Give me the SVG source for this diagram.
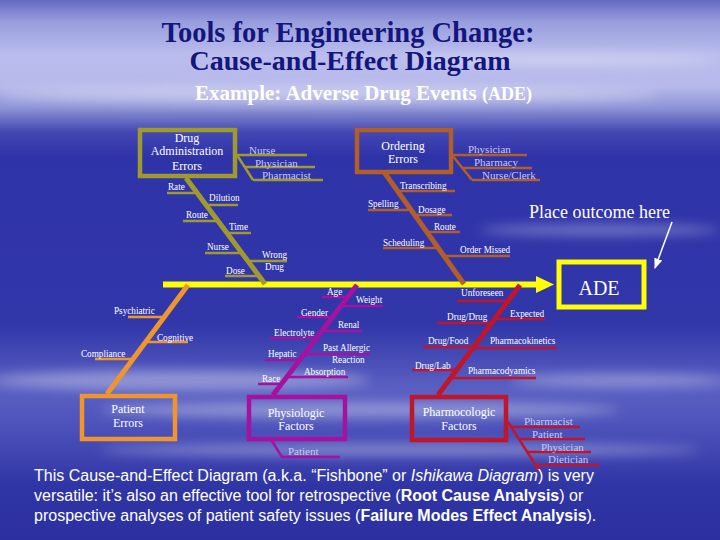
<svg xmlns="http://www.w3.org/2000/svg" width="720" height="540" viewBox="0 0 720 540">
<defs>
<linearGradient id="bg" x1="0" y1="0" x2="0" y2="1">
<stop offset="0" stop-color="#6469c4"/>
<stop offset="0.04" stop-color="#989ddd"/>
<stop offset="0.1" stop-color="#b9bcec"/>
<stop offset="0.16" stop-color="#b6b9ea"/>
<stop offset="0.2" stop-color="#8e93d6"/>
<stop offset="0.245" stop-color="#4247b3"/>
<stop offset="0.29" stop-color="#2f33a8"/>
<stop offset="0.6" stop-color="#3136a9"/>
<stop offset="0.72" stop-color="#5a60c2"/>
<stop offset="0.8" stop-color="#4a50b8"/>
<stop offset="0.9" stop-color="#3035a6"/>
<stop offset="1" stop-color="#2b2f9f"/>
</linearGradient>
<filter id="blur" x="-20%" y="-200%" width="140%" height="500%"><feGaussianBlur stdDeviation="6"/></filter>
<marker id="wa" viewBox="0 0 10 10" refX="9" refY="5" markerWidth="7" markerHeight="7" orient="auto"><path d="M0,1 L10,5 L0,9 Z" fill="#ffffff"/></marker>
<style>
.t{font-family:"Liberation Serif","Times New Roman",serif;}
.lb{font-family:"Liberation Serif","Times New Roman",serif;font-size:10.8px;fill:#ffffff;}
.sl{font-family:"Liberation Serif","Times New Roman",serif;font-size:11px;fill:#c8c8ee;}
.bx{font-family:"Liberation Serif","Times New Roman",serif;font-size:12px;fill:#ffffff;text-anchor:middle;}
.box{fill:none;stroke-width:4.5;}
.bone{stroke-width:5;fill:none;}
.sub{stroke-width:2.5;fill:none;}
.ol{stroke:#a09a2e;}
.br{stroke:#b25e2a;}
.or{stroke:#f0952e;}
.mg{stroke:#a5129f;}
.rd{stroke:#c0162c;}
.para{font-family:"Liberation Sans",Arial,sans-serif;font-size:16px;fill:#ffffff;}
</style>
</defs>
<rect width="720" height="540" fill="url(#bg)"/>
<g opacity="0.35" filter="url(#blur)" fill="#ffffff">
<ellipse cx="330" cy="95" rx="330" ry="8"/>
<ellipse cx="560" cy="60" rx="160" ry="5"/>
<ellipse cx="600" cy="230" rx="120" ry="5"/>
<ellipse cx="180" cy="380" rx="190" ry="10"/>
<ellipse cx="360" cy="410" rx="260" ry="8"/>
<ellipse cx="620" cy="380" rx="110" ry="6"/>
<ellipse cx="400" cy="450" rx="300" ry="6"/>
</g>

<g id="title">
<text class="t" x="348" y="42" text-anchor="middle" font-size="28.5" font-weight="bold" fill="#14167c">Tools for Engineering Change:</text>
<text class="t" x="350" y="70" text-anchor="middle" font-size="28" font-weight="bold" fill="#14167c">Cause-and-Effect Diagram</text>
<text class="t" x="195" y="100" font-size="21" font-weight="bold" fill="#ffffff">Example: Adverse Drug Events <tspan font-size="18">(ADE)</tspan></text>
</g>

<g id="connectors">
<line x1="163" y1="284.5" x2="538" y2="284.5" stroke="#ffff00" stroke-width="6"/>
<polygon points="536,276 554,284.5 536,293" fill="#ffff00"/>
<line x1="672" y1="222" x2="655" y2="268" stroke="#ffffff" stroke-width="1.5" marker-end="url(#wa)"/>

<line class="bone ol" x1="186" y1="178" x2="265" y2="284"/>
<polyline class="sub ol" points="237,155 253,180"/>
<line class="sub ol" x1="237" y1="155" x2="307" y2="155"/>
<line class="sub ol" x1="245" y1="167" x2="315" y2="167"/>
<line class="sub ol" x1="253" y1="180" x2="323" y2="180"/>
<line class="sub ol" x1="167" y1="193" x2="196" y2="193"/>
<line class="sub ol" x1="206" y1="205" x2="238" y2="205"/>
<line class="sub ol" x1="183" y1="221" x2="218" y2="221"/>
<line class="sub ol" x1="227" y1="233" x2="251" y2="233"/>
<line class="sub ol" x1="205" y1="253" x2="242" y2="253"/>
<line class="sub ol" x1="248" y1="261" x2="287" y2="261"/>
<line class="sub ol" x1="225" y1="276" x2="259" y2="276"/>

<line class="bone br" x1="384" y1="172" x2="464" y2="284"/>
<polyline class="sub br" points="452,155 472,180"/>
<line class="sub br" x1="452" y1="155" x2="527" y2="155"/>
<line class="sub br" x1="462" y1="168" x2="532" y2="168"/>
<line class="sub br" x1="472" y1="180" x2="540" y2="180"/>
<line class="sub br" x1="397" y1="191" x2="455" y2="191"/>
<line class="sub br" x1="368" y1="210" x2="411" y2="210"/>
<line class="sub br" x1="415" y1="215" x2="452" y2="215"/>
<line class="sub br" x1="427" y1="232" x2="460" y2="232"/>
<line class="sub br" x1="383" y1="248" x2="438" y2="248"/>
<line class="sub br" x1="444" y1="256" x2="510" y2="256"/>

<line class="bone or" x1="107" y1="394" x2="188" y2="285"/>
<line class="sub or" x1="128" y1="317" x2="164" y2="317"/>
<line class="sub or" x1="145" y1="342" x2="188" y2="342"/>
<line class="sub or" x1="95" y1="359" x2="132" y2="359"/>

<line class="bone mg" x1="273" y1="395" x2="357" y2="285"/>
<polyline class="sub mg" points="270,438 282,457 340,457"/>
<line class="sub mg" x1="322" y1="297" x2="346" y2="297"/>
<line class="sub mg" x1="339" y1="306" x2="383" y2="306"/>
<line class="sub mg" x1="297" y1="317" x2="331" y2="317"/>
<line class="sub mg" x1="321" y1="331" x2="362" y2="331"/>
<line class="sub mg" x1="270" y1="338" x2="315" y2="338"/>
<line class="sub mg" x1="303" y1="354" x2="370" y2="354"/>
<line class="sub mg" x1="265" y1="360" x2="299" y2="360"/>
<line class="sub mg" x1="286" y1="377" x2="348" y2="377"/>
<line class="sub mg" x1="258" y1="384" x2="280" y2="384"/>

<line class="bone rd" x1="438" y1="395" x2="520" y2="285"/>
<polyline class="sub rd" points="508,422 540,472"/>
<line class="sub rd" x1="512" y1="427" x2="580" y2="427"/>
<line class="sub rd" x1="519" y1="439" x2="585" y2="439"/>
<line class="sub rd" x1="527" y1="452" x2="591" y2="452"/>
<line class="sub rd" x1="535" y1="465" x2="599" y2="465"/>
<line class="sub rd" x1="457" y1="301" x2="507" y2="301"/>
<line class="sub rd" x1="437" y1="323" x2="491" y2="323"/>
<line class="sub rd" x1="494" y1="319" x2="545" y2="319"/>
<line class="sub rd" x1="423" y1="347" x2="473" y2="347"/>
<line class="sub rd" x1="472" y1="348" x2="557" y2="348"/>
<line class="sub rd" x1="412" y1="370" x2="456" y2="370"/>
<line class="sub rd" x1="450" y1="378" x2="536" y2="378"/>
</g>

<g id="node-drug-admin">
<rect class="box ol" x="140" y="130" width="95" height="46"/>
<text class="bx" x="187" y="142">Drug</text>
<text class="bx" x="187" y="155">Administration</text>
<text class="bx" x="187" y="170">Errors</text>
</g>
<g id="people-drug-admin">
<text class="sl" x="249" y="154">Nurse</text>
<text class="sl" x="255" y="167">Physician</text>
<text class="sl" x="262" y="179">Pharmacist</text>
</g>
<g id="causes-drug-admin" transform="scale(0.85,1)">
<text class="lb" x="197.6" y="190">Rate</text>
<text class="lb" x="245.9" y="201">Dilution</text>
<text class="lb" x="218.8" y="218">Route</text>
<text class="lb" x="269.4" y="230">Time</text>
<text class="lb" x="243.5" y="250">Nurse</text>
<text class="lb" x="308.2" y="258">Wrong</text>
<text class="lb" x="311.8" y="270">Drug</text>
<text class="lb" x="265.9" y="274">Dose</text>
</g>

<g id="node-ordering">
<rect class="box br" x="357" y="130" width="94" height="42"/>
<text class="bx" x="403" y="150">Ordering</text>
<text class="bx" x="403" y="163">Errors</text>
</g>
<g id="people-ordering">
<text class="sl" x="468" y="153">Physician</text>
<text class="sl" x="474" y="166">Pharmacy</text>
<text class="sl" x="482" y="179">Nurse/Clerk</text>
</g>
<g id="causes-ordering" transform="scale(0.85,1)">
<text class="lb" x="470.6" y="189">Transcribing</text>
<text class="lb" x="432.9" y="207">Spelling</text>
<text class="lb" x="491.8" y="213">Dosage</text>
<text class="lb" x="510.6" y="230">Route</text>
<text class="lb" x="450.6" y="246">Scheduling</text>
<text class="lb" x="541.2" y="253">Order Missed</text>
</g>

<g id="node-ade">
<rect x="559" y="262" width="85" height="45" fill="none" stroke="#ffff00" stroke-width="5"/>
<text class="t" x="599" y="295" text-anchor="middle" font-size="20" fill="#ffffff">ADE</text>
</g>
<g id="note">
<text class="t" x="529" y="218" font-size="18" fill="#ffffff">Place outcome here</text>
</g>

<g id="node-patient-errors">
<rect class="box or" x="82" y="396" width="93" height="43"/>
<text class="bx" x="128" y="413">Patient</text>
<text class="bx" x="128" y="427">Errors</text>
</g>
<g id="causes-patient" transform="scale(0.85,1)">
<text class="lb" x="134.1" y="314">Psychiatric</text>
<text class="lb" x="184.7" y="341">Cognitive</text>
<text class="lb" x="95.3" y="357">Compliance</text>
</g>

<g id="node-physiologic">
<rect class="box mg" x="249" y="397" width="96" height="42"/>
<text class="bx" x="296" y="417">Physiologic</text>
<text class="bx" x="296" y="430">Factors</text>
</g>
<g id="people-physiologic">
<text class="sl" x="288" y="455">Patient</text>
</g>
<g id="causes-physiologic" transform="scale(0.85,1)">
<text class="lb" x="384.7" y="295">Age</text>
<text class="lb" x="418.8" y="303">Weight</text>
<text class="lb" x="354.1" y="316">Gender</text>
<text class="lb" x="397.6" y="328">Renal</text>
<text class="lb" x="322.4" y="336">Electrolyte</text>
<text class="lb" x="380" y="351">Past Allergic</text>
<text class="lb" x="390.6" y="363">Reaction</text>
<text class="lb" x="315.3" y="357">Hepatic</text>
<text class="lb" x="357.6" y="375">Absorption</text>
<text class="lb" x="308.2" y="382">Race</text>
</g>

<g id="node-pharmacologic">
<rect class="box rd" x="412" y="397" width="94" height="43"/>
<text class="bx" x="459" y="416">Pharmocologic</text>
<text class="bx" x="459" y="430">Factors</text>
</g>
<g id="people-pharmacologic">
<text class="sl" x="524" y="425">Pharmacist</text>
<text class="sl" x="532" y="438">Patient</text>
<text class="sl" x="541" y="451">Physician</text>
<text class="sl" x="548" y="463">Dietician</text>
</g>
<g id="causes-pharmacologic" transform="scale(0.85,1)">
<text class="lb" x="542.4" y="296">Unforeseen</text>
<text class="lb" x="525.9" y="320">Drug/Drug</text>
<text class="lb" x="600" y="317">Expected</text>
<text class="lb" x="503.5" y="344">Drug/Food</text>
<text class="lb" x="576.5" y="344">Pharmacokinetics</text>
<text class="lb" x="488.2" y="369">Drug/Lab</text>
<text class="lb" x="550.6" y="374">Pharmacodyamics</text>
</g>

<g id="caption">
<text class="para" x="34" y="481">This Cause-and-Effect Diagram (a.k.a. “Fishbone” or <tspan font-style="italic">Ishikawa Diagram</tspan>) is very</text>
<text class="para" x="34" y="501">versatile: it’s also an effective tool for retrospective (<tspan font-weight="bold">Root Cause Analysis</tspan>) or</text>
<text class="para" x="34" y="521">prospective analyses of patient safety issues (<tspan font-weight="bold">Failure Modes Effect Analysis</tspan>).</text>
</g>
</svg>
